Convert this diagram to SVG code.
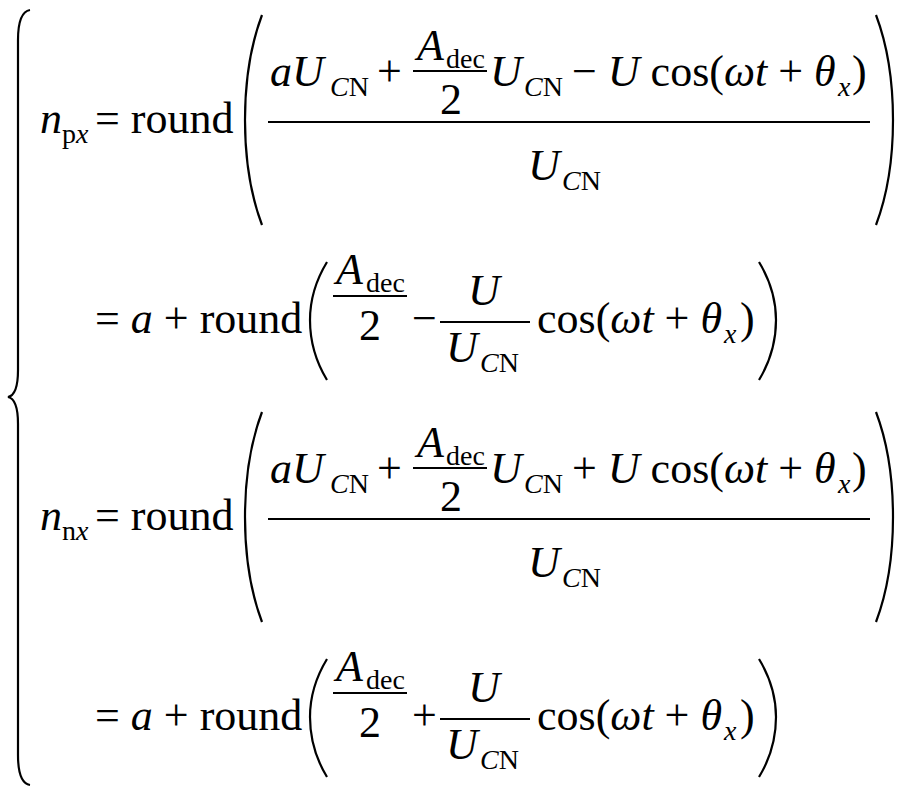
<svg xmlns="http://www.w3.org/2000/svg" width="904" height="794" viewBox="0 0 904 794">
<style>
text{font-family:"Liberation Serif","Times New Roman",Tinos,"DejaVu Serif",serif;fill:#000}
.m{font-size:44px}
.s{font-size:28px}
.i{font-style:italic}
.p{fill:none;stroke:#000;stroke-width:2.2}
.l{stroke:#000;stroke-width:2}
</style>
<rect width="904" height="794" fill="#fff"/>
<path class="p" d="M30,10 Q18,12 18,40 L18,370 Q18,395 8,397 Q18,399 18,424 L18,755 Q18,783 30,785"/>
<g id="eq1">
<text class="m i" x="40" y="133">n</text>
<text class="s" x="62" y="143">p<tspan class="i">x</tspan></text>
<text class="m" x="95" y="133">= round</text>
<path class="p" d="M262,15 Q245,60 245,120 Q245,180 262,225"/>
<text class="m i" x="270" y="86">aU</text>
<text class="s i" x="330" y="96">C<tspan font-style="normal">N</tspan></text>
<text class="m" x="377" y="86">+</text>
<text class="m i" x="417" y="60">A</text>
<text class="s" x="446" y="68">dec</text>
<line class="l" x1="413" y1="71" x2="487" y2="71"/>
<text class="m" x="440" y="114">2</text>
<text class="m i" x="490" y="86">U</text>
<text class="s i" x="524" y="96">C<tspan font-style="normal">N</tspan></text>
<text class="m" x="572" y="86">− <tspan class="i">U</tspan> cos(<tspan class="i">ωt</tspan> + <tspan class="i">θ</tspan></text>
<text class="s i" x="838" y="96">x</text>
<text class="m" x="852" y="86">)</text>
<line class="l" x1="268" y1="122" x2="870" y2="122"/>
<text class="m i" x="528" y="180">U</text>
<text class="s i" x="562" y="190">C<tspan font-style="normal">N</tspan></text>
<path class="p" d="M876,15 Q893,60 893,120 Q893,180 876,225"/>
</g>
<g id="eq2">
<text class="m" x="95" y="333">= <tspan class="i">a</tspan> + round</text>
<path class="p" d="M327,262 Q310,290 310,320 Q310,352 327,380"/>
<text class="m i" x="336" y="284">A</text>
<text class="s" x="366" y="292">dec</text>
<line class="l" x1="333" y1="296" x2="407" y2="296"/>
<text class="m" x="359" y="340">2</text>
<text class="m" x="412" y="333">−</text>
<text class="m i" x="468" y="305">U</text>
<line class="l" x1="440" y1="322" x2="530" y2="322"/>
<text class="m i" x="446" y="362">U</text>
<text class="s i" x="480" y="372">C<tspan font-style="normal">N</tspan></text>
<text class="m" x="537" y="333">cos(<tspan class="i">ωt</tspan> + <tspan class="i">θ</tspan></text>
<text class="s i" x="724" y="343">x</text>
<text class="m" x="740" y="333">)</text>
<path class="p" d="M759,262 Q776,290 776,320 Q776,352 759,380"/>
</g>
<g id="eq3" transform="translate(0,397)">
<text class="m i" x="40" y="133">n</text>
<text class="s" x="62" y="143">n<tspan class="i">x</tspan></text>
<text class="m" x="95" y="133">= round</text>
<path class="p" d="M262,15 Q245,60 245,120 Q245,180 262,225"/>
<text class="m i" x="270" y="86">aU</text>
<text class="s i" x="330" y="96">C<tspan font-style="normal">N</tspan></text>
<text class="m" x="377" y="86">+</text>
<text class="m i" x="417" y="60">A</text>
<text class="s" x="446" y="68">dec</text>
<line class="l" x1="413" y1="71" x2="487" y2="71"/>
<text class="m" x="440" y="114">2</text>
<text class="m i" x="490" y="86">U</text>
<text class="s i" x="524" y="96">C<tspan font-style="normal">N</tspan></text>
<text class="m" x="572" y="86">+ <tspan class="i">U</tspan> cos(<tspan class="i">ωt</tspan> + <tspan class="i">θ</tspan></text>
<text class="s i" x="838" y="96">x</text>
<text class="m" x="852" y="86">)</text>
<line class="l" x1="268" y1="122" x2="870" y2="122"/>
<text class="m i" x="528" y="180">U</text>
<text class="s i" x="562" y="190">C<tspan font-style="normal">N</tspan></text>
<path class="p" d="M876,15 Q893,60 893,120 Q893,180 876,225"/>
</g>
<g id="eq4" transform="translate(0,397)">
<text class="m" x="95" y="333">= <tspan class="i">a</tspan> + round</text>
<path class="p" d="M327,262 Q310,290 310,320 Q310,352 327,380"/>
<text class="m i" x="336" y="284">A</text>
<text class="s" x="366" y="292">dec</text>
<line class="l" x1="333" y1="296" x2="407" y2="296"/>
<text class="m" x="359" y="340">2</text>
<text class="m" x="412" y="333">+</text>
<text class="m i" x="468" y="305">U</text>
<line class="l" x1="440" y1="322" x2="530" y2="322"/>
<text class="m i" x="446" y="362">U</text>
<text class="s i" x="480" y="372">C<tspan font-style="normal">N</tspan></text>
<text class="m" x="537" y="333">cos(<tspan class="i">ωt</tspan> + <tspan class="i">θ</tspan></text>
<text class="s i" x="724" y="343">x</text>
<text class="m" x="740" y="333">)</text>
<path class="p" d="M759,262 Q776,290 776,320 Q776,352 759,380"/>
</g>
</svg>
